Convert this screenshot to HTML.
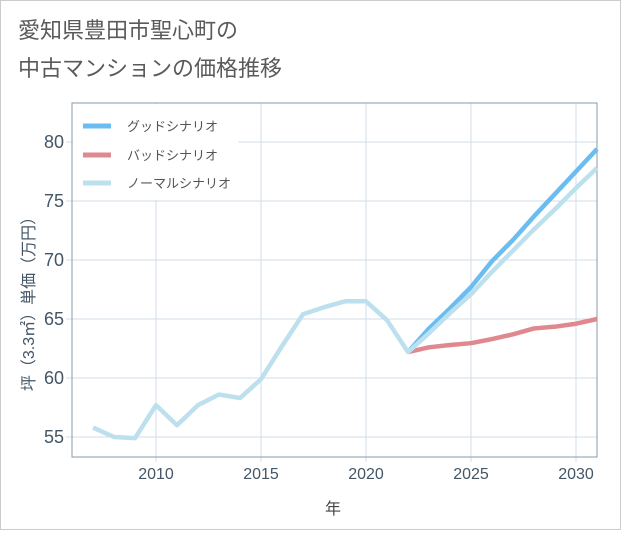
<!DOCTYPE html>
<html><head><meta charset="utf-8"><style>
body{margin:0;background:#fff;font-family:"Liberation Sans","Noto Sans CJK JP",sans-serif;}
svg text{font-family:"Liberation Sans","Noto Sans CJK JP",sans-serif;}
</style></head><body>
<svg id="c" width="621" height="530" viewBox="0 0 621 530">
<rect x="0.5" y="0.5" width="620" height="529" fill="#fff" stroke="#ccc"/>
<text x="18" y="38" font-size="22" fill="#5a5a5a">愛知県豊田市聖心町の</text>
<text x="18" y="76" font-size="22" fill="#5a5a5a">中古マンションの価格推移</text>
<g id="grid"></g>
<rect x="72" y="103" width="525" height="354" fill="none" stroke="#8899aa" stroke-width="1"/>
<g id="series"></g>
<g id="legend">
<rect x="73" y="104" width="165" height="96" fill="#fff"/>
<line x1="83" y1="126" x2="111" y2="126" stroke="#6bbcf0" stroke-width="5"/>
<text x="127" y="131" font-size="13" fill="#555">グッドシナリオ</text>
<line x1="83" y1="155" x2="111" y2="155" stroke="#e08890" stroke-width="5"/>
<text x="127" y="160" font-size="13" fill="#555">バッドシナリオ</text>
<line x1="83" y1="183" x2="111" y2="183" stroke="#bde0ee" stroke-width="5"/>
<text x="127" y="188" font-size="13" fill="#555">ノーマルシナリオ</text>
</g>
<text x="333" y="514" font-size="16" fill="#444" text-anchor="middle">年</text>
<text transform="translate(34,300) rotate(-90)" font-size="16" fill="#445566" text-anchor="middle">坪（3.3㎡）単価（万円）</text>
</svg>
<script>
const years=[2007,2008,2009,2010,2011,2012,2013,2014,2015,2016,2017,2018,2019,2020,2021,2022,2023,2024,2025,2026,2027,2028,2029,2030,2031];
const normalValues=[55.8,55.0,54.9,57.7,56.0,57.7,58.6,58.3,59.9,62.7,65.4,66.0,66.5,66.5,64.9,62.2,63.8,65.5,67.1,69.0,70.8,72.6,74.3,76.1,77.8];
const futureYears=[2022,2023,2024,2025,2026,2027,2028,2029,2030,2031];
const goodValues=[62.2,64.2,65.9,67.7,69.9,71.7,73.7,75.6,77.5,79.4];
const badValues=[62.2,62.6,62.8,62.95,63.3,63.7,64.2,64.35,64.6,65.0];
const xTicks=[2010,2015,2020,2025,2030];
const yTicks=[55,60,65,70,75,80];
const NS="http://www.w3.org/2000/svg";
function X(y){return 156+(y-2010)*21;}
function Y(v){return 142+(80-v)*11.8;}
const grid=document.getElementById('grid');
function mk(tag,attrs,parent){const e=document.createElementNS(NS,tag);for(const k in attrs)e.setAttribute(k,attrs[k]);parent.appendChild(e);return e;}
xTicks.forEach(t=>{
 const l=mk('line',{x1:X(t),x2:X(t),y1:103,y2:462,stroke:'#d0dde8'},grid);
 
 
 const tx=mk('text',{x:X(t),y:479,'font-size':16,fill:'#445566','text-anchor':'middle'},grid);
 tx.textContent=t;
 
 
});
yTicks.forEach(t=>{
 const l=mk('line',{x1:66,x2:597,y1:Y(t),y2:Y(t),stroke:'#d0dde8'},grid);
 
 
 const tx=mk('text',{x:64,y:Y(t)+6,'font-size':18,fill:'#445566','text-anchor':'end'},grid);
 tx.textContent=t;
 
 
});
const s=document.getElementById('series');
function line(xs,vs,color,name){
 const p=mk('polyline',{points:xs.map((x,i)=>X(x)+','+Y(vs[i])).join(' '),fill:'none',stroke:color,'stroke-width':4.5,'stroke-linejoin':'round'},s);
 
 
}
line(futureYears,badValues,'#e08890','bad-scenario-line');
line(futureYears,goodValues,'#6bbcf0','good-scenario-line');
line(years,normalValues,'#bde0ee','normal-scenario-line');
</script>
</body></html>
